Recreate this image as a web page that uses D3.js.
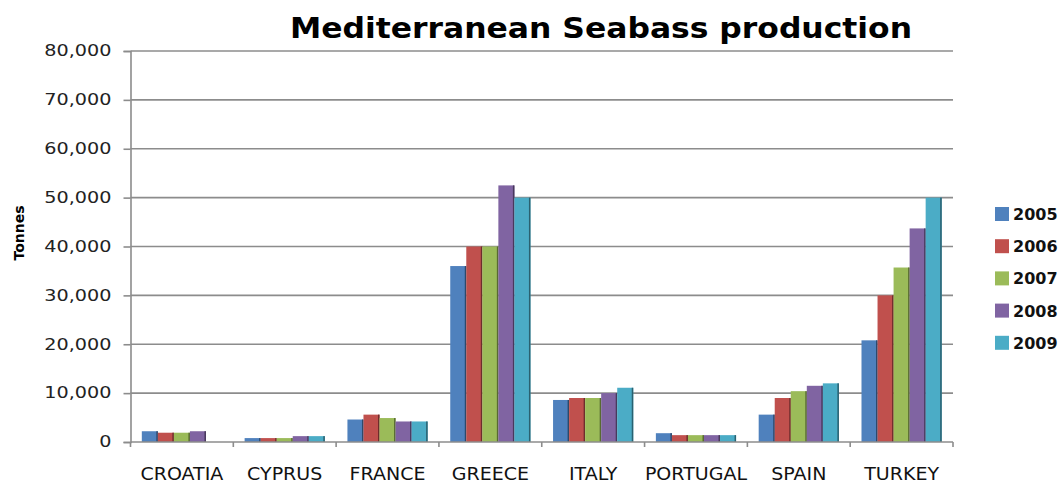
<!DOCTYPE html>
<html>
<head>
<meta charset="utf-8">
<script src="https://cdn.jsdelivr.net/npm/d3@7"></script>
<style>
  body { margin: 0; background: #fff; }
  svg { display: block; }
</style>
</head>
<body>
<svg id="chart" width="1062" height="485"></svg>
<script>
// data (tonnes)
var countries = ["CROATIA", "CYPRUS", "FRANCE", "GREECE", "ITALY", "PORTUGAL", "SPAIN", "TURKEY"];
var years = ["2005", "2006", "2007", "2008", "2009"];
var v2005 = [2200, 800, 4600, 36000, 8600, 1800, 5600, 20800];
var v2006 = [1900, 800, 5600, 40000, 9000, 1400, 9000, 30000];
var v2007 = [1900, 800, 4900, 40000, 9000, 1400, 10400, 35700];
var v2008 = [2200, 1200, 4200, 52500, 10000, 1400, 11500, 43700];
var v2009 = [0, 1200, 4200, 50000, 11100, 1400, 12000, 50000];
var yTicks = [0, 10000, 20000, 30000, 40000, 50000, 60000, 70000, 80000];
var colors = ["#4F81BD", "#C0504D", "#9BBB59", "#8064A2", "#4BACC6"];

var series = [v2005, v2006, v2007, v2008, v2009];

var svg = d3.select("#chart");
var plotL = 130.5, plotR = 953, plotT = 51, plotB = 442;

var x0 = d3.scaleBand().domain(countries).range([plotL, plotR])
  .paddingInner(0.22).paddingOuter(0.11);
var x1 = d3.scaleBand().domain(years).range([0, x0.bandwidth()]);
var y = d3.scaleLinear().domain([0, 80000]).range([plotB, plotT]);
var color = d3.scaleOrdinal().domain(years).range(colors);

// gridlines
svg.append("g").selectAll("line").data(yTicks.slice(1)).join("line")
  .attr("x1", plotL).attr("x2", plotR)
  .attr("y1", function(d){ return y(d); }).attr("y2", function(d){ return y(d); })
  .attr("stroke", "#8c8c8c").attr("stroke-width", 1.6);

// y axis
var yAxis = svg.append("g").attr("transform", "translate(" + plotL + ",0)")
  .call(d3.axisLeft(y).tickValues(yTicks).tickSize(7).tickPadding(12).tickFormat(d3.format(",")));
yAxis.select(".domain").attr("stroke", "#8c8c8c").attr("stroke-width", 1.6);
yAxis.selectAll(".tick line").attr("stroke", "#8c8c8c").attr("stroke-width", 1.6);
yAxis.selectAll(".tick text")
  .attr("font-family", "DejaVu Sans").attr("font-size", 15).attr("fill", "#222")
  .attr("transform", function(){
    var xx = +d3.select(this).attr("x");
    return "translate(" + xx + ",0) scale(1.28,1)";
  }).attr("x", 0);

// bars
var groups = svg.append("g").selectAll("g").data(countries).join("g")
  .attr("transform", function(d){ return "translate(" + x0(d) + ",0)"; });

groups.each(function(c, ci){
  var g = d3.select(this);
  years.forEach(function(yr, si){
    var val = series[si][ci];
    if (!val) return;
    g.append("rect")
      .attr("x", x1(yr)).attr("y", y(val))
      .attr("width", x1.bandwidth()).attr("height", y(0) - y(val))
      .attr("fill", color(yr));
    g.append("rect")
      .attr("x", x1(yr) + x1.bandwidth() - 1.5).attr("y", y(val))
      .attr("width", 1.5).attr("height", y(0) - y(val))
      .attr("fill", d3.color(color(yr)).darker(1.6));
  });
});

// x axis with ticks at category boundaries
svg.append("line").attr("x1", plotL).attr("x2", plotR)
  .attr("y1", plotB).attr("y2", plotB)
  .attr("stroke", "#8c8c8c").attr("stroke-width", 1.6);
var bounds = countries.map(function(c){ return x0(c) - x0.step() * x0.paddingInner() / 2; });
bounds.push(plotR);
svg.append("g").selectAll("line").data(bounds).join("line")
  .attr("x1", function(d){ return d; }).attr("x2", function(d){ return d; })
  .attr("y1", plotB).attr("y2", plotB + 5)
  .attr("stroke", "#8c8c8c").attr("stroke-width", 1.6);

svg.append("g").selectAll("text").data(countries).join("text")
  .attr("transform", function(d){ return "translate(" + (x0(d) + x0.bandwidth() / 2) + "," + 480 + ") scale(1.12,1)"; })
  .attr("text-anchor", "middle")
  .attr("font-family", "DejaVu Sans").attr("font-size", 17).attr("fill", "#111")
  .text(function(d){ return d; });

// title
svg.append("text").attr("x", 601).attr("y", 38)
  .attr("text-anchor", "middle")
  .attr("font-family", "DejaVu Sans").attr("font-weight", "bold").attr("font-size", 29)
  .attr("textLength", 622).attr("lengthAdjust", "spacingAndGlyphs")
  .text("Mediterranean Seabass production");

// y label
svg.append("text").attr("transform", "translate(24,233) rotate(-90)")
  .attr("text-anchor", "middle")
  .attr("font-family", "DejaVu Sans").attr("font-weight", "bold").attr("font-size", 14)
  .text("Tonnes");

// legend
var legend = svg.append("g").selectAll("g").data(years).join("g")
  .attr("transform", function(d, i){ return "translate(995," + (214 + i * 32.2) + ")"; });
legend.append("rect").attr("x", 0).attr("y", -7).attr("width", 14).attr("height", 14)
  .attr("fill", function(d){ return color(d); });
legend.append("text").attr("x", 18).attr("y", 6)
  .attr("font-family", "DejaVu Sans").attr("font-weight", "bold").attr("font-size", 16)
  .attr("fill", "#111")
  .text(function(d){ return d; });
</script>
</body>
</html>
